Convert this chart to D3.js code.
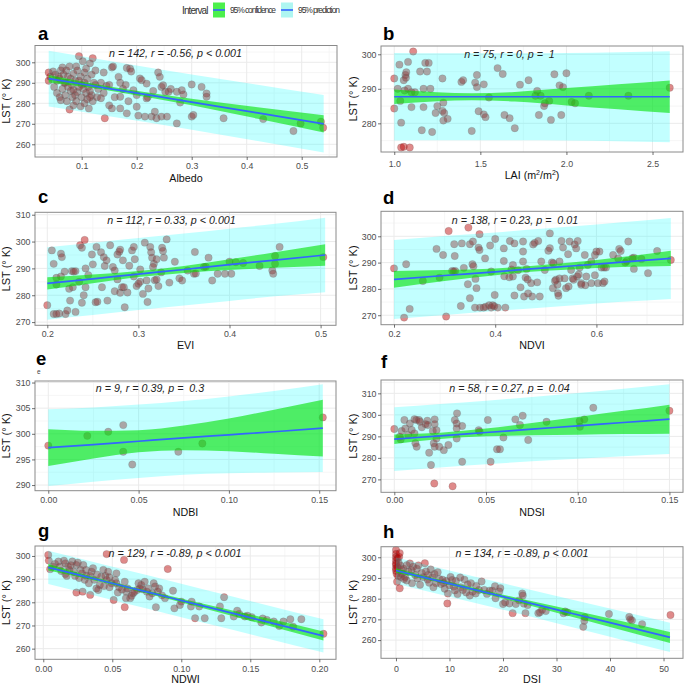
<!DOCTYPE html>
<html><head><meta charset="utf-8">
<script src="https://cdn.jsdelivr.net/npm/d3@7"></script>
<style>
body{margin:0;background:#fff}
svg{display:block}
text{font-family:"Liberation Sans",Arial,Helvetica,sans-serif;white-space:pre}
</style></head>
<body><svg id="chart" width="685" height="684"></svg>
<script>
// ---------------- DATA ----------------
const panelIds = ["a","b","c","d","e","f","g","h"];
const xTitles = ["Albedo","LAI","EVI","NDVI","NDBI","NDSI","NDWI","DSI"];
const statTexts = [
  "n = 142, r = -0.56, p < 0.001",
  "n = 75, r = 0, p =  1",
  "n = 112, r = 0.33, p < 0.001",
  "n = 138, r = 0.23, p =  0.01",
  "n = 9, r = 0.39, p =  0.3",
  "n = 58, r = 0.27, p =  0.04",
  "n = 129, r = -0.89, p < 0.001",
  "n = 134, r = -0.89, p < 0.001"
];
const legendLabels = ["95% confidence","95% prediction"];

// points [x, LST]
const ptsA = [[0.040,295],[0.040,291],[0.043,293],[0.048,295.5],[0.052,294],[0.055,291],[0.058,293],[0.062,296],[0.065,297.5],[0.067,294],[0.07,290],[0.072,296],[0.075,293],[0.078,298],[0.08,292],[0.082,289],[0.085,294.5],[0.088,291],[0.09,298],[0.092,296],[0.095,303],[0.098,293],[0.1,289],[0.102,300.5],[0.105,295],[0.108,297],[0.11,292],[0.112,288],[0.115,299.5],[0.118,294],[0.12,302],[0.122,290],[0.125,296],
[0.05,288],[0.055,285],[0.06,283],[0.062,281.5],[0.065,287],[0.07,284],[0.073,281],[0.078,277],[0.08,286],[0.083,283],[0.085,279],[0.088,284],[0.09,281],[0.092,285.5],[0.095,288],[0.098,278.5],[0.1,283],[0.103,287],[0.105,280],[0.108,285],[0.11,282],[0.113,277.5],[0.115,286],[0.118,284],[0.12,281],[0.125,289],[0.128,283],[0.13,287],[0.135,282.5],[0.14,285],
[0.06,292],[0.068,290],[0.075,288],[0.085,286.5],[0.095,291],[0.105,290],[0.115,283],[0.135,290],[0.14,295],[0.16,283],[0.175,287],[0.2,284],[0.22,283],[0.15,279],[0.185,281],
[0.142,272.7],[0.145,288.5],[0.15,289],[0.155,297.5],[0.157,298],[0.155,277.5],[0.167,292.9],[0.17,290],[0.17,283.2],[0.17,277.5],[0.18,289],[0.182,297.2],[0.182,275.1],[0.188,296.9],[0.19,295.5],[0.194,286.4],[0.2,278.3],[0.203,274],[0.206,292.1],[0.209,291.3],[0.215,273.5],[0.218,289.6],[0.218,282.4],[0.227,273.5],[0.23,286],[0.233,275.9],[0.236,272.7],[0.239,295],[0.242,292.9],[0.245,288],[0.245,273.5],[0.248,288.8],[0.252,285.6],[0.255,273.5],[0.258,285.6],[0.262,287],[0.273,285.6],[0.273,270.2],[0.279,280.4],[0.282,286.4],[0.285,284.3],[0.3,289.2],[0.3,273.5],[0.303,274.3],[0.318,288],[0.327,284.8],[0.327,283.2],[0.358,272.7],[0.43,272.3],[0.485,266.5],[0.498,270.2],[0.535,271],[0.539,268.1]];

const ptsB = [[1.0,293],[1.0,284.3],[1.02,290],[1.03,297],[1.035,286.5],[1.04,280.2],[1.04,273],[1.055,273.2],[1.055,292.5],[1.06,289.5],[1.065,294],[1.068,293.2],[1.07,294.8],[1.08,297.8],[1.08,290],[1.09,273],[1.1,289],[1.1,284.7],[1.11,300.8],[1.12,289],[1.15,295],[1.16,278],[1.17,290],[1.17,284.7],[1.18,297.5],[1.2,297.5],[1.19,295],[1.21,290],[1.22,277.5],[1.24,283],[1.25,285],[1.28,293],[1.285,286],[1.28,283.6],[1.29,283],[1.285,280.8],[1.31,281.3],[1.39,292],[1.4,292.5],[1.45,277.8],[1.47,291.8],[1.48,290.5],[1.48,294],[1.49,283.5],[1.52,291.3],[1.52,282.6],[1.53,281.8],[1.55,287.5],[1.6,296],[1.63,294.3],[1.64,282.4],[1.67,281.5],[1.7,278.6],[1.73,291.2],[1.78,292.5],[1.82,288],[1.83,289.4],[1.84,282.4],[1.85,288],[1.87,285],[1.875,285.8],[1.9,286.5],[1.91,281],[1.93,294.2],[1.96,291],[1.97,282.4],[1.98,290.5],[2.0,294.5],[2.03,286.2],[2.05,285.8],[2.13,288],[2.36,288],[2.6,290.3]];

const ptsC = [[0.2,276.3],[0.205,296.7],[0.207,273],[0.21,273],[0.213,273.2],[0.207,291.7],[0.21,286.5],[0.21,284],[0.215,295.5],[0.216,294.2],[0.219,288.8],[0.22,273],[0.222,274.3],[0.224,282.4],[0.227,289],[0.229,288.8],[0.228,283],[0.231,289],[0.231,273.8],[0.236,298.6],[0.238,297.7],[0.238,277.2],[0.24,280],[0.241,300.6],[0.242,290],[0.242,283],[0.249,295.2],[0.253,277.4],[0.255,277.6],[0.254,298],[0.259,296],[0.262,294.2],[0.263,290.9],[0.266,278],[0.269,298.6],[0.272,290.5],[0.274,289.2],[0.274,281.5],[0.277,295.2],[0.279,296.2],[0.277,285.9],[0.28,297],[0.28,280.9],[0.282,283],[0.283,293],[0.284,283],[0.288,281],[0.293,296.7],[0.295,298],[0.296,293.4],[0.298,283.4],[0.3,284.3],[0.302,289.6],[0.302,285],[0.305,280.5],[0.307,299.6],[0.309,285.5],[0.311,282.5],[0.313,298],[0.314,296],[0.315,294],[0.317,291.7],[0.316,290.5],[0.318,285.6],[0.32,285.9],[0.32,293.4],[0.322,283.4],[0.326,297.7],[0.327,296.5],[0.328,294],[0.331,300.8],[0.334,284.7],[0.345,286.3],[0.348,285.5],[0.354,289.2],[0.361,288],[0.363,288.1],[0.362,296.1],[0.372,290.5],[0.374,290.6],[0.377,294],[0.381,285.5],[0.387,288],[0.395,288],[0.4,292.5],[0.402,288],[0.407,292.3],[0.415,292],[0.433,290.9],[0.447,289.2],[0.448,288],[0.45,294.6],[0.45,291.7],[0.455,298],[0.503,294.2],
[0.215,287],[0.225,278],[0.235,285],[0.245,287.5],[0.26,283],[0.265,293],[0.29,291],[0.31,277.5],[0.325,288.5],[0.285,275.5],[0.25,291.5],[0.34,292.5],[0.295,287]];

const ptsD = [[0.2,287.8],[0.22,269.1],[0.224,289.4],[0.231,272.4],[0.257,283],[0.284,295.2],[0.29,284.3],[0.297,292.9],[0.303,269.5],[0.308,302],[0.315,286.8],[0.318,286.6],[0.321,286.8],[0.319,297],[0.332,273.5],[0.334,297.3],[0.346,281.8],[0.347,303.3],[0.35,297],[0.35,276.5],[0.355,289.4],[0.357,288.6],[0.356,298],[0.36,272.9],[0.361,283.8],[0.363,280.3],[0.367,295.7],[0.369,294.8],[0.369,300.8],[0.37,272.9],[0.377,272.9],[0.381,273.2],[0.388,273.8],[0.392,272.9],[0.395,273.8],[0.398,273.4],[0.405,272.9],[0.42,272.9],[0.38,291.6],[0.392,286.6],[0.399,277.7],[0.417,295.4],[0.417,290.6],[0.429,298.2],[0.435,289.1],[0.435,284.7],[0.438,297.3],[0.438,277.5],[0.455,298],[0.455,294.2],[0.455,290.4],[0.457,277.1],[0.46,284.3],[0.464,283.6],[0.471,282.2],[0.473,277.1],[0.475,296.9],[0.478,297.5],[0.483,282.5],[0.485,298.2],[0.488,277.1],[0.491,290.4],[0.498,287.2],[0.505,294.5],[0.508,295.5],[0.508,301.1],[0.512,290.1],[0.515,289.8],[0.514,280.3],[0.52,283.5],[0.523,281.6],[0.524,278.4],[0.527,290.4],[0.527,284],[0.531,298.2],[0.534,295.7],[0.537,284],[0.54,280.3],[0.544,293.2],[0.547,298],[0.55,287.2],[0.553,284],[0.557,296.9],[0.563,298.2],[0.56,295.4],[0.562,284.7],[0.567,288.1],[0.57,282.2],[0.577,292.9],[0.58,284.7],[0.583,289.1],[0.59,290.4],[0.59,282.2],[0.597,292.9],[0.6,294.2],[0.603,282.2],[0.606,294.2],[0.61,288.1],[0.615,288.1],[0.619,288.1],[0.613,282.2],[0.616,282.8],[0.633,292.9],[0.645,295.2],[0.648,294.4],[0.643,291.6],[0.657,290],[0.66,290.6],[0.663,298],[0.671,291.7],[0.674,291.9],[0.674,287.6],[0.689,291.4],[0.702,286],[0.72,294.4],[0.747,291],
[0.418,284.8],[0.428,284.4],[0.432,287.4],[0.445,287.1],[0.45,280.6],[0.465,278.3],[0.462,287.6],[0.518,283],[0.525,277.4],[0.545,280.9],[0.555,283.5],[0.565,285.5],[0.57,281.6],[0.578,281.4],[0.597,285.2],[0.32,292.5],[0.338,288],[0.39,296.5],[0.4,299]];

const ptsE = [[0.0,297.7],[0.0216,299.6],[0.0332,300.4],[0.0415,301.7],[0.0415,296.5],[0.0465,294.0],[0.072,296.5],[0.0853,298.1],[0.152,303.2]];

const ptsF = [[0.0,293.4],[0.003,289.8],[0.0035,288.6],[0.004,292.5],[0.0055,297.6],[0.006,293.7],[0.0076,290.6],[0.0085,296],[0.0095,293],[0.011,298],[0.012,297.6],[0.011,291.4],[0.0115,286.8],[0.0122,285.2],[0.0135,297.6],[0.014,296.8],[0.015,294.2],[0.017,295.7],[0.018,297.3],[0.0182,295.3],[0.019,282.4],[0.020,276.7],[0.021,292.5],[0.022,297.9],[0.022,295.7],[0.0215,286.8],[0.022,285.2],[0.023,292.9],[0.023,289],[0.0245,285.2],[0.027,283.6],[0.0295,286],[0.033,297.6],[0.034,296],[0.034,293.7],[0.0342,300.7],[0.034,289],[0.037,294.8],[0.037,278.2],[0.046,292.9],[0.0465,292.2],[0.051,297.6],[0.0525,278.2],[0.056,284],[0.0576,284],[0.0595,289.5],[0.066,297.9],[0.0685,295.3],[0.07,299.6],[0.073,288.3],[0.083,296.8],[0.101,297.1],[0.1012,294.5],[0.1036,297.9],[0.1085,303.3],[0.150,301.9],[0.0218,268.1],[0.0318,266.8]];

const ptsG = [[0.0036,300.4],[0.004,298],[0.005,294.3],[0.007,295.4],[0.0085,296.6],[0.011,297.6],[0.012,295.4],[0.015,298],[0.016,296.8],[0.016,292.2],[0.017,291.4],[0.018,295.4],[0.019,294],[0.021,297.6],[0.022,293.2],[0.023,291.4],[0.024,296.1],[0.025,297.1],[0.024,284.2],[0.027,294],[0.028,292.5],[0.0285,284.6],[0.029,296.1],[0.030,289.7],[0.031,294],[0.033,288.2],[0.034,291.4],[0.034,283.2],[0.035,293.2],[0.036,294.7],[0.037,289.7],[0.0385,286],[0.0398,285.3],[0.041,287.5],[0.042,291.1],[0.0435,294],[0.045,291.4],[0.046,289.7],[0.0459,300.8],[0.047,293.2],[0.048,290.8],[0.0495,288.2],[0.051,281],[0.052,289.7],[0.053,288.2],[0.053,292.5],[0.054,284.2],[0.055,286.5],[0.0585,298.3],[0.059,277.9],[0.059,288.9],[0.060,284.6],[0.061,286],[0.0599,281.8],[0.063,281.8],[0.064,282.8],[0.065,283.9],[0.068,285.3],[0.069,288.2],[0.070,286],[0.071,287.5],[0.072,285.6],[0.0735,288.9],[0.075,284.6],[0.076,286],[0.077,282.5],[0.079,283.9],[0.080,288.2],[0.081,286.8],[0.0816,277.9],[0.083,284.6],[0.084,286],[0.0882,281.8],[0.0902,294.4],[0.094,285],[0.095,277.4],[0.099,278.8],[0.1,280.3],[0.107,278.2],[0.1075,280.3],[0.110,273.1],[0.113,278.2],[0.117,273.1],[0.128,278.2],[0.129,273.1],[0.131,282.2],[0.138,273.9],[0.1405,276.4],[0.142,275],[0.146,273.9],[0.148,274.2],[0.151,273.6],[0.158,271.3],[0.159,273],[0.162,272.4],[0.167,271.7],[0.171,269.8],[0.174,271.7],[0.179,272.7],[0.181,269.5],[0.187,272.7],[0.203,266.4],
[0.013,293.5],[0.026,290.5],[0.039,292],[0.044,287],[0.057,285.5],[0.066,284.5],[0.086,283],[0.048,286.5],[0.031,291.5],[0.02,296]];

const ptsH = [[0,303.5],[0,301.6],[0,300],[0,298.4],[0,297],[0,296.3],[0,294.7],[0,293.5],[0.1,292],[0.2,288.2],[0.3,295.2],[0.3,299.5],[0.5,297.4],[0.6,300.2],[0.7,302],[0.7,285],[0.4,291],[0.8,296],[1.0,294],[0.9,290.5],
[1.1,292],[1.4,294.5],[1.7,290.5],[2.0,296.2],[2.3,293.1],[2.6,297],[2.9,293.8],[3.2,295.4],[3.6,291.4],[3.9,294.5],[4.2,296.1],[4.5,286.7],[4.8,292.4],[5.1,290.4],[5.4,297.1],[5.6,293.1],[5.9,289.2],[6.2,287.7],[6.5,294.1],[6.8,290.3],[7.2,291.9],[7.5,287.5],[7.8,292.8],[8.1,289.5],[8.4,287.1],[8.7,289.2],[2.0,288.8],[3.0,287.5],[1.5,289.5],[4.0,289.8],
[8.9,287.6],[9.1,284.8],[9.4,288.5],[9.6,277.7],[9.7,282.5],[10.2,290.5],[10.5,289],[10.8,285.8],[11.2,288.5],[11.5,282.2],[12.1,285.5],[12.5,284.2],[12.8,289.2],[13.1,283],[13.4,286.9],[14.0,287.5],[14.3,283.4],[14.9,282.5],[15.5,284.2],[16.5,284.2],[17.0,282.3],[17.5,283.9],[18.0,283.9],[18.6,280.2],[19.3,283.5],[19.5,285.1],[20.0,277.4],[20.4,278.2],[21.2,277.7],[21.8,273],[22.4,277.4],[23.0,279.2],[23.6,282.5],[23.7,281.5],[23.9,277.6],[24.2,273],[24.6,276.9],[10.0,286.5],[12.0,290.2],[15.0,286.2],[16.0,288.3],[18.5,286.0],[11.0,284],[13.8,281.5],[7.0,285.5],[6.0,291.5],
[26.6,273],[26.9,273.4],[27.3,274.6],[28.0,274],[31.3,273],[31.6,273.8],[32.0,273.4],[35.0,266.4],[35.2,269.3],[35.3,271],[39.8,272.6],[43.6,271.2],[43.8,270],[44.1,269.5],[46.0,267.7],[51.3,272.1]];

// fitted line and intervals: [x, fit, confLo, confHi, predLo, predHi]
const bandA = [[0.04,292.0,290.2,293.8,278.4,305.6],[0.10,289.4,288.2,290.6,275.9,302.9],[0.17,286.3,285.3,287.3,272.8,299.8],[0.30,280.6,279.0,282.2,267.1,294.1],[0.42,275.3,272.5,278.1,261.6,289.0],[0.54,270.0,265.8,274.2,256.0,284.0]];
const bandB = [[1.0,287.7,285.6,289.8,275.0,300.4],[1.25,287.7,286.4,289.0,275.1,300.3],[1.45,287.7,286.7,288.7,275.1,300.3],[1.7,287.7,286.3,289.1,275.1,300.3],[2.0,287.7,285.2,290.2,275.0,300.4],[2.3,287.7,284.1,291.3,274.8,300.6],[2.6,287.7,283.0,292.4,274.5,300.9]];
const bandC = [[0.2,284.4,282.1,286.7,270.9,297.9],[0.25,286.1,284.5,287.7,272.6,299.6],[0.3,287.9,286.75,289.05,274.5,301.3],[0.35,289.6,288.3,290.9,276.2,303.0],[0.4,291.4,289.4,293.4,277.9,304.8],[0.45,293.1,290.2,296.0,279.6,306.6],[0.505,295.0,291.0,299.0,281.1,308.9]];
const bandD = [[0.2,283.6,280.4,286.8,268.6,298.6],[0.3,285.1,283.0,287.2,270.1,300.1],[0.4,286.5,285.2,287.8,271.6,301.4],[0.47,287.6,286.5,288.7,272.6,302.6],[0.55,288.7,287.4,290.0,273.7,303.7],[0.65,290.2,288.3,292.1,275.1,305.3],[0.747,291.6,288.7,294.5,276.2,307.0]];
const bandE = [[0.0,297.3,293.7,300.9,289.8,304.8],[0.025,297.9,295.2,300.6,290.65,305.15],[0.05,298.55,296.4,300.7,291.4,305.7],[0.075,299.2,296.8,301.6,292.0,306.4],[0.1,299.8,296.6,303.0,292.3,307.3],[0.125,300.4,296.1,304.7,292.45,308.35],[0.152,301.1,295.55,306.65,292.55,309.65]];
const bandF = [[0.0,288.7,286.5,290.9,273.9,303.5],[0.025,290.25,288.8,291.7,275.5,305.0],[0.05,291.8,290.0,293.6,277.0,306.6],[0.075,293.35,290.5,296.2,278.4,308.3],[0.1,294.9,290.8,299.0,279.65,310.15],[0.125,296.45,291.05,301.85,280.75,312.15],[0.15,298.0,291.25,304.75,281.8,314.2]];
const bandG = [[0.0036,295.1,293.7,296.5,287.9,302.3],[0.03,291.2,290.35,292.05,284.0,298.4],[0.06,286.7,286.1,287.3,279.5,293.9],[0.09,282.3,281.55,283.05,275.1,289.5],[0.12,277.8,276.75,278.85,270.6,285.0],[0.16,271.9,270.4,273.4,264.7,279.1],[0.203,265.5,263.55,267.45,258.3,272.7]];
const bandH = [[0,293.6,292.55,294.65,287.2,300.0],[5,290.4,289.6,291.2,284.05,296.75],[10,287.3,286.6,288.0,280.95,293.65],[20,281.0,280.05,281.95,274.6,287.4],[30,274.7,273.2,276.2,268.15,281.25],[40,268.4,266.35,270.45,261.6,275.2],[51.2,261.3,258.65,263.95,254.2,268.4]];

const xTicksA=[0.1,0.2,0.3,0.4,0.5], yTicksA=[260,270,280,290,300];
const xTicksB=[1.0,1.5,2.0,2.5],     yTicksB=[280,290,300];
const xTicksC=[0.2,0.3,0.4,0.5],     yTicksC=[270,280,290,300,310];
const xTicksD=[0.2,0.4,0.6],         yTicksD=[270,280,290,300];
const xTicksE=[0,0.05,0.10,0.15],    yTicksE=[290,295,300,305,310];
const xTicksF=[0,0.05,0.10,0.15],    yTicksF=[270,280,290,300,310];
const xTicksG=[0,0.05,0.10,0.15,0.20], yTicksG=[260,270,280,290,300];
const xTicksH=[0,10,20,30,40,50],    yTicksH=[260,270,280,290,300];

// ---------------- LAYOUT ----------------
const f1=d3.format(".1f"), f2=d3.format(".2f"), f0=d3.format("d");
const panels = [
 {pts:ptsA,band:bandA,xt:xTicksA,yt:yTicksA,xf:f1,l:35,t:45.5,r:337,b:157,xd:[0.0151,0.5642],yd:[253.8,308.2],tickY:169,titleY:182,lx:38,ly:39.5,ax:175.5,ay:57,ytx:10},
 {pts:ptsB,band:bandB,xt:xTicksB,yt:yTicksB,xf:f1,l:381,t:46,r:683,b:152,xd:[0.923,2.677],yd:[271.7,302.4],tickY:167,titleY:178.5,lx:383,ly:40,ax:509.5,ay:57.5,ytx:357},
 {pts:ptsC,band:bandC,xt:xTicksC,yt:yTicksC,xf:f1,l:35,t:212.3,r:336,b:325.3,xd:[0.1865,0.5169],yd:[268.8,310.9],tickY:337.5,titleY:348.5,lx:38,ly:202.7,ax:171.5,ay:224,ytx:10},
 {pts:ptsD,band:bandD,xt:xTicksD,yt:yTicksD,xf:f1,l:381,t:211.3,r:683,b:324.7,xd:[0.1743,0.7711],yd:[266.4,309.5],tickY:337.5,titleY:348.5,lx:383,ly:204,ax:515,ay:224,ytx:357},
 {pts:ptsE,band:bandE,xt:xTicksE,yt:yTicksE,xf:f2,l:35,t:381,r:336,b:490.7,xd:[-0.00736,0.1593],yd:[288.9,310.3],tickY:503,titleY:516,lx:36,ly:365,ax:150,ay:391.5,ytx:10},
 {pts:ptsF,band:bandF,xt:xTicksF,yt:yTicksF,xf:f2,l:381,t:380,r:683,b:492.3,xd:[-0.00725,0.1574],yd:[264.0,316.2],tickY:503,titleY:516,lx:381,ly:368,ax:509.5,ay:391.5,ytx:357},
 {pts:ptsG,band:bandG,xt:xTicksG,yt:yTicksG,xf:f2,l:35,t:546,r:336,b:659.3,xd:[-0.006,0.2121],yd:[255.4,304.3],tickY:672.5,titleY:683,lx:38,ly:536.5,ax:175,ay:557,ytx:10},
 {pts:ptsH,band:bandH,xt:xTicksH,yt:yTicksH,xf:f0,l:381,t:546.7,r:683,b:658.3,xd:[-2.8,53.64],yd:[251.2,305.1],tickY:672.5,titleY:683,lx:383,ly:538,ax:522,ay:557,ytx:357}
];

const COL = {pred:"rgba(0,255,255,0.24)", conf:"rgba(0,225,0,0.6)", line:"#3366ff", grid:"#ebebeb", minor:"#f4f4f4", border:"#8a8a8a",
             tick:"#4d4d4d", ptFill:"rgba(185,0,0,0.46)", ptStroke:"rgba(70,70,70,0.35)"};

const svg = d3.select("#chart");
svg.append("rect").attr("width",685).attr("height",684).attr("fill","#fff");

// ---------------- LEGEND ----------------
const lg = svg.append("g");
lg.append("text").attr("x",182).attr("y",13.5).attr("font-size",10).attr("textLength",26.5).attr("fill","#333").text("Interval");
const keyFills = ["#4cf04c","#aef6f1"];
const keyX = [213,281], labX = [230,298], labW=[46,42];
legendLabels.forEach((lab,i)=>{
  lg.append("rect").attr("x",keyX[i]).attr("y",2.5).attr("width",12).attr("height",15).attr("fill",keyFills[i]);
  lg.append("line").attr("x1",keyX[i]).attr("x2",keyX[i]+12).attr("y1",10).attr("y2",10).attr("stroke",COL.line).attr("stroke-width",1.6);
  lg.append("text").attr("x",labX[i]).attr("y",12.8).attr("font-size",8.5).attr("textLength",labW[i]).attr("fill","#333").text(lab);
});

// ---------------- PANELS ----------------
panels.forEach((P,i)=>{
  const x = d3.scaleLinear().domain(P.xd).range([P.l,P.r]);
  const y = d3.scaleLinear().domain(P.yd).range([P.b,P.t]);
  const g = svg.append("g");
  const cid = "clip"+i;
  g.append("clipPath").attr("id",cid).append("rect").attr("x",P.l).attr("y",P.t).attr("width",P.r-P.l).attr("height",P.b-P.t);
  g.append("rect").attr("x",P.l).attr("y",P.t).attr("width",P.r-P.l).attr("height",P.b-P.t).attr("fill","#fff");

  // grid: minor (half steps) then major
  const half = (arr)=>{ const s=arr[1]-arr[0]; const out=[]; for(let k=-1;k<arr.length;k++){ out.push(arr[0]+s*(k+0.5)); } return out; };
  const gridG = g.append("g").attr("clip-path",`url(#${cid})`);
  half(P.xt).forEach(v=>{ if(v>P.xd[0]&&v<P.xd[1]) gridG.append("line").attr("x1",x(v)).attr("x2",x(v)).attr("y1",P.t).attr("y2",P.b).attr("stroke",COL.minor).attr("stroke-width",0.8); });
  half(P.yt).forEach(v=>{ if(v>P.yd[0]&&v<P.yd[1]) gridG.append("line").attr("y1",y(v)).attr("y2",y(v)).attr("x1",P.l).attr("x2",P.r).attr("stroke",COL.minor).attr("stroke-width",0.8); });
  P.xt.forEach(v=>gridG.append("line").attr("x1",x(v)).attr("x2",x(v)).attr("y1",P.t).attr("y2",P.b).attr("stroke",COL.grid).attr("stroke-width",1));
  P.yt.forEach(v=>gridG.append("line").attr("y1",y(v)).attr("y2",y(v)).attr("x1",P.l).attr("x2",P.r).attr("stroke",COL.grid).attr("stroke-width",1));

  // points (drawn first; translucent ribbons go on top)
  g.append("g").selectAll("circle").data(P.pts).join("circle")
    .attr("cx",d=>x(d[0])).attr("cy",d=>y(d[1])).attr("r",3.7)
    .attr("fill",COL.ptFill).attr("stroke",COL.ptStroke).attr("stroke-width",0.5);

  // bands
  const bandG = g.append("g").attr("clip-path",`url(#${cid})`);
  const areaPred = d3.area().x(d=>x(d[0])).y0(d=>y(d[4])).y1(d=>y(d[5])).curve(d3.curveMonotoneX);
  const areaConf = d3.area().x(d=>x(d[0])).y0(d=>y(d[2])).y1(d=>y(d[3])).curve(d3.curveMonotoneX);
  bandG.append("path").datum(P.band).attr("d",areaPred).attr("fill",COL.pred);
  bandG.append("path").datum(P.band).attr("d",areaConf).attr("fill",COL.conf);

  // fit line
  g.append("path").datum(P.band).attr("d",d3.line().x(d=>x(d[0])).y(d=>y(d[1])).curve(d3.curveMonotoneX))
    .attr("fill","none").attr("stroke",COL.line).attr("stroke-width",1.7);

  // border
  g.append("rect").attr("x",P.l).attr("y",P.t).attr("width",P.r-P.l).attr("height",P.b-P.t)
    .attr("fill","none").attr("stroke",COL.border).attr("stroke-width",1);

  // axes
  const fs = 8.8;
  const padX = (P.tickY - P.b) - 3 - 0.71*fs;
  const ax = g.append("g").attr("transform",`translate(0,${P.b})`)
    .call(d3.axisBottom(x).tickValues(P.xt).tickFormat(P.xf).tickSize(3).tickPadding(padX));
  const ay = g.append("g").attr("transform",`translate(${P.l},0)`)
    .call(d3.axisLeft(y).tickValues(P.yt).tickFormat(f0).tickSize(3).tickPadding(1.5));
  [ax,ay].forEach(a=>{
    a.select(".domain").remove();
    a.selectAll(".tick line").attr("stroke","#333").attr("stroke-width",0.7);
    a.selectAll(".tick text").attr("fill",COL.tick).attr("font-size",fs).attr("font-family","Liberation Sans, Arial, sans-serif");
  });

  // titles
  const cx = (P.l+P.r)/2;
  const xt = g.append("text").attr("x",cx).attr("y",P.titleY).attr("text-anchor","middle").attr("font-size",10.7).attr("fill","#111");
  if(i===1){
    xt.append("tspan").text("LAI (m");
    xt.append("tspan").attr("font-size",7).attr("dy",-4).text("2");
    xt.append("tspan").attr("dy",4).text("/m");
    xt.append("tspan").attr("font-size",7).attr("dy",-4).text("2");
    xt.append("tspan").attr("dy",4).text(")");
  } else xt.text(xTitles[i]);
  g.append("text").attr("transform",`translate(${P.ytx},${(P.t+P.b)/2}) rotate(-90)`).attr("text-anchor","middle")
    .attr("font-size",11).attr("fill","#111").text("LST (° K)");
  g.append("text").attr("x",P.ax).attr("y",P.ay).attr("text-anchor","middle").attr("font-size",10.7)
    .attr("font-style","italic").attr("fill","#222").text(statTexts[i]);
  g.append("text").attr("x",P.lx).attr("y",P.ly).attr("font-size",18.5).attr("font-weight","bold").attr("fill","#000").text(panelIds[i]);
});
// small stray glyph under panel label e, as in the source figure
svg.append("text").attr("x",37).attr("y",374).attr("font-size",6.5).attr("fill","#444").text("e");
</script>
</body></html>
